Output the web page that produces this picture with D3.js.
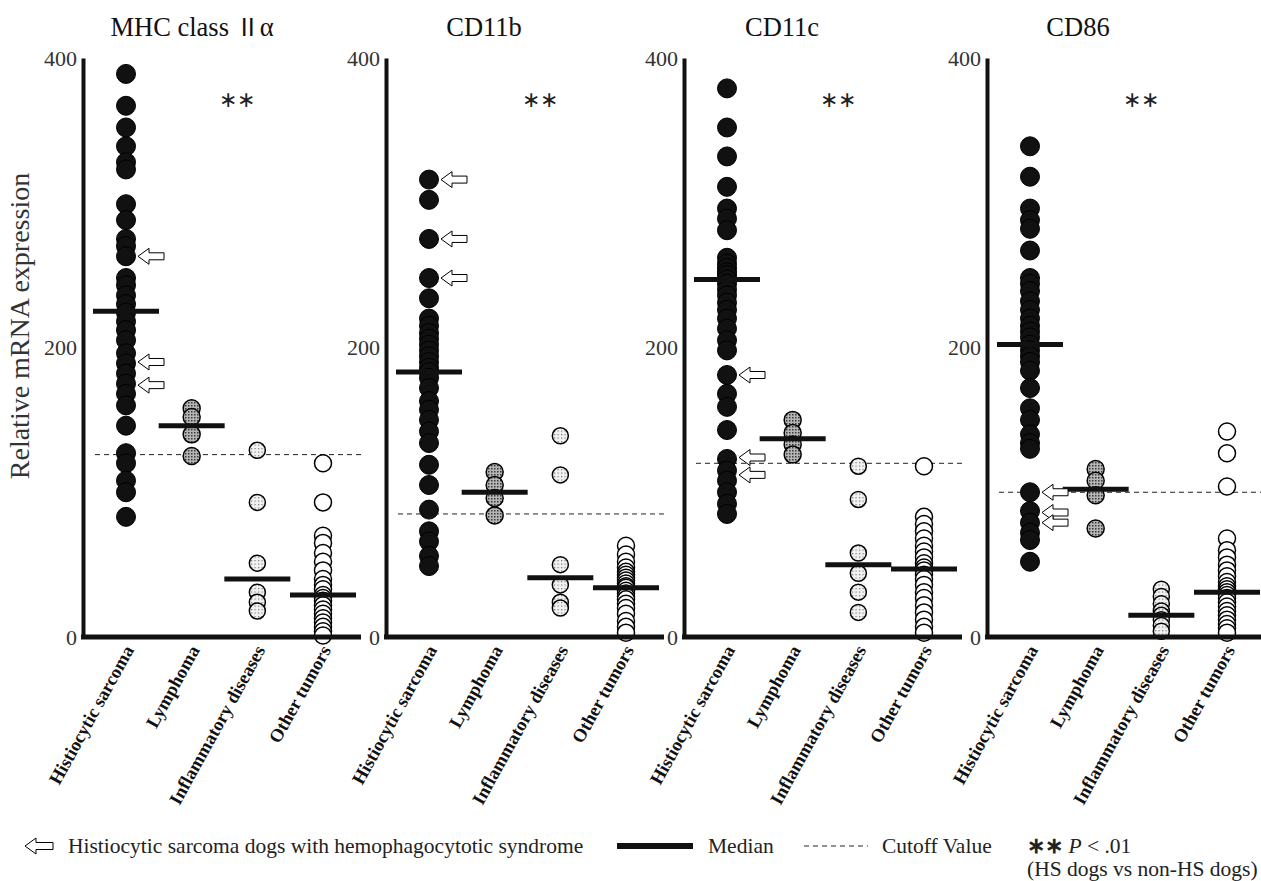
<!DOCTYPE html>
<html>
<head>
<meta charset="utf-8">
<script src="https://cdn.jsdelivr.net/npm/d3@7"></script>
<style>
  body { margin: 0; background: #fff; }
  svg { display: block; font-family: "Liberation Serif", "Times New Roman", serif; }
</style>
</head>
<body>
<svg id="chart" width="1261" height="881"></svg>
<script>
// Categories and titles
const categories = ["Histiocytic sarcoma", "Lymphoma", "Inflammatory diseases", "Other tumors"];
const panelTitles = ["MHC class ", "CD11b", "CD11c", "CD86"];
const yTicks = [0, 200, 400];

// Relative mRNA expression, one list per category
const mhcValues = [
  [389, 367, 352, 339, 328, 323, 299, 288, 275, 270, 263, 248, 243, 236, 230, 224, 218, 212, 205, 196, 189, 182, 175, 168, 160, 146, 127, 120, 108, 100, 83],
  [158, 152, 140, 125],
  [129, 93, 51, 31, 24, 18],
  [120, 93, 70, 65, 58, 52, 46, 40, 36, 33, 29, 27, 25, 22, 19, 16, 13, 10, 7, 4, 1]
];
const cd11bValues = [
  [316, 302, 275, 248, 234, 220, 215, 210, 206, 202, 198, 194, 190, 186, 183, 179, 172, 163, 157, 150, 142, 134, 119, 105, 88, 73, 66, 56, 49],
  [114, 105, 96, 84],
  [139, 112, 50, 36, 24, 20],
  [63, 57, 52, 48, 45, 43, 41, 39, 37, 35, 34, 32, 30, 28, 26, 23, 20, 16, 11, 7, 3]
];
const cd11cValues = [
  [379, 352, 332, 311, 296, 289, 281, 262, 258, 255, 252, 250, 247, 244, 240, 236, 231, 226, 220, 213, 205, 198, 181, 168, 159, 143, 123, 115, 108, 100, 92, 85],
  [150, 141, 133, 126],
  [118, 95, 58, 44, 31, 17],
  [118, 83, 78, 73, 68, 63, 59, 55, 51, 48, 46, 43, 40, 36, 31, 27, 22, 17, 12, 7, 3]
];
const cd86Values = [
  [339, 318, 296, 288, 282, 267, 248, 244, 239, 232, 226, 220, 215, 211, 207, 202, 198, 194, 190, 184, 172, 158, 150, 140, 134, 130, 100, 87, 79, 72, 67, 52],
  [116, 108, 98, 75],
  [33, 28, 23, 18, 15, 12, 8, 4],
  [142, 127, 104, 68, 60, 55, 50, 46, 42, 38, 35, 33, 31, 29, 27, 24, 21, 18, 15, 12, 9, 6, 3]
];
const panels = [mhcValues, cd11bValues, cd11cValues, cd86Values];

const medians = [
  [225, 146, 40, 29],
  [183, 100, 41, 34],
  [247, 137, 50, 47],
  [202, 102, 15, 31]
];
const cutoffs = [126, 85, 120, 100];
// HS dogs with hemophagocytotic syndrome
const hsArrows = [
  [263, 190, 174],
  [316, 275, 248],
  [181, 124, 112],
  [100, 86, 79]
];

// Layout
const axisX = [83, 386, 684, 987];
const titleX = [192, 484, 782, 1078];
const panelW = 278;
const serif = "'Liberation Serif', 'Times New Roman', serif";
const svg = d3.select("#chart");

const y = d3.scaleLinear().domain([0, 400]).range([637, 58]);
const x = d3.scalePoint().domain(categories).range([43, 240]);

// Fill patterns
const defs = svg.append("defs");
const lymPat = defs.append("pattern").attr("id", "lymPat")
  .attr("width", 3).attr("height", 3).attr("patternUnits", "userSpaceOnUse");
lymPat.append("rect").attr("width", 3).attr("height", 3).attr("fill", "#b5b5b5");
lymPat.append("rect").attr("width", 1.5).attr("height", 1.5).attr("fill", "#3a3a3a");
const infPat = defs.append("pattern").attr("id", "infPat")
  .attr("width", 3.5).attr("height", 3.5).attr("patternUnits", "userSpaceOnUse");
infPat.append("rect").attr("width", 3.5).attr("height", 3.5).attr("fill", "#f2f2f2");
infPat.append("rect").attr("width", 1.2).attr("height", 1.2).attr("fill", "#777");

const fills = ["#111", "url(#lymPat)", "url(#infPat)", "#fff"];
const radii = [9.5, 8.5, 8, 8.5];

function arrowPath(tip, cy, len) {
  return `M${tip},${cy} L${tip + 11},${cy - 8} L${tip + 11},${cy - 3.5} L${tip + len},${cy - 3.5}` +
    ` L${tip + len},${cy + 3.5} L${tip + 11},${cy + 3.5} L${tip + 11},${cy + 8} Z`;
}

panels.forEach((vals, pi) => {
  const g = svg.append("g").attr("transform", `translate(${axisX[pi]},0)`);

  // Cutoff line
  g.append("line")
    .attr("x1", 12).attr("x2", panelW)
    .attr("y1", y(cutoffs[pi])).attr("y2", y(cutoffs[pi]))
    .attr("stroke", "#222").attr("stroke-width", 1)
    .attr("stroke-dasharray", "5,4");

  // Dots
  categories.forEach((c, ci) => {
    g.selectAll(null)
      .data(vals[ci])
      .enter().append("circle")
      .attr("cx", x(c))
      .attr("cy", d => y(d))
      .attr("r", radii[ci])
      .attr("fill", fills[ci])
      .attr("stroke", "#000")
      .attr("stroke-width", ci === 0 ? 1 : 1.5);
  });

  // Median bars
  g.selectAll(null)
    .data(medians[pi])
    .enter().append("line")
    .attr("x1", (d, i) => x(categories[i]) - 33)
    .attr("x2", (d, i) => x(categories[i]) + 33)
    .attr("y1", d => y(d)).attr("y2", d => y(d))
    .attr("stroke", "#111").attr("stroke-width", 5);

  // Arrows
  g.selectAll(null)
    .data(hsArrows[pi])
    .enter().append("path")
    .attr("d", d => arrowPath(x(categories[0]) + 12, y(d), 26))
    .attr("fill", "#fff").attr("stroke", "#000").attr("stroke-width", 1);

  // ** marker
  g.append("text")
    .attr("x", 154).attr("y", 107)
    .attr("text-anchor", "middle")
    .style("font-size", "22px")
    .attr("fill", "#222")
    .text("∗∗");

  // Title
  const title = svg.append("text")
    .attr("x", titleX[pi]).attr("y", 36)
    .attr("text-anchor", "middle")
    .attr("fill", "#111")
    .style("font-size", "26.5px")
    .text(panelTitles[pi]);
  if (pi === 0) {
    title.append("tspan").style("font-family", "'Noto Sans CJK JP'").style("font-size", "24px").text("Ⅱ");
    title.append("tspan").text("α");
  }

  // Y axis
  const yAxis = g.append("g")
    .call(d3.axisLeft(y).tickValues(yTicks).tickSize(0).tickSizeOuter(0).tickPadding(6))
    .attr("font-family", serif);
  yAxis.select(".domain").attr("stroke", "#111").attr("stroke-width", 4);
  yAxis.selectAll(".tick text")
    .attr("font-family", serif)
    .attr("font-size", 22)
    .attr("fill", "#333");

  // X axis
  const xAxis = g.append("g")
    .attr("transform", `translate(0,${y(0)})`)
    .call(d3.axisBottom(x).tickSize(0))
    .attr("font-family", serif);
  xAxis.select(".domain").remove();
  xAxis.selectAll(".tick text")
    .attr("y", 0).attr("dy", 0)
    .attr("transform", "translate(8,13) rotate(-61)")
    .attr("text-anchor", "end")
    .attr("fill", "#111")
    .attr("font-family", serif)
    .attr("font-weight", "bold")
    .attr("font-size", 18.5);
  g.append("line")
    .attr("x1", -2).attr("x2", panelW)
    .attr("y1", y(0)).attr("y2", y(0))
    .attr("stroke", "#111").attr("stroke-width", 5);
});

// Y label
svg.append("text")
  .attr("transform", "translate(29,326) rotate(-90)")
  .attr("text-anchor", "middle")
  .attr("font-family", serif)
  .style("font-size", "28px")
  .attr("fill", "#333")
  .text("Relative mRNA expression");

// Legend
const leg = svg.append("g").attr("fill", "#222").style("font-size", "21.5px");
leg.append("path").attr("d", arrowPath(25, 846, 28))
  .attr("fill", "#fff").attr("stroke", "#000").attr("stroke-width", 1);
leg.append("text").attr("x", 68).attr("y", 853)
  .text("Histiocytic sarcoma dogs with hemophagocytotic syndrome");
leg.append("line").attr("x1", 617).attr("x2", 693).attr("y1", 846).attr("y2", 846)
  .attr("stroke", "#111").attr("stroke-width", 6);
leg.append("text").attr("x", 708).attr("y", 853).text("Median");
leg.append("line").attr("x1", 804).attr("x2", 868).attr("y1", 846).attr("y2", 846)
  .attr("stroke", "#222").attr("stroke-width", 1).attr("stroke-dasharray", "5,4");
leg.append("text").attr("x", 882).attr("y", 853).text("Cutoff Value");
const pText = leg.append("text").attr("x", 1027).attr("y", 853);
pText.append("tspan").style("font-weight", "bold").text("∗∗");
pText.append("tspan").style("font-style", "italic").text(" P");
pText.append("tspan").text(" < .01");
leg.append("text").attr("x", 1027).attr("y", 876).text("(HS dogs vs non-HS dogs)");
</script>
</body>
</html>
